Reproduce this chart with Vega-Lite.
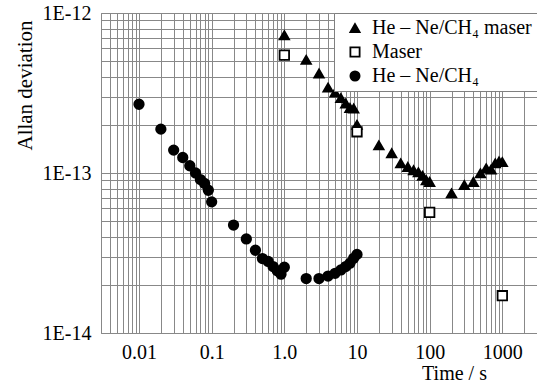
{
  "$schema": "https://vega.github.io/schema/vega-lite/v6.json",
  "width": 436,
  "height": 320,
  "autosize": "none",
  "padding": {"left": 101, "top": 13, "right": 0, "bottom": 52},
  "background": "white",
  "config": {
    "view": {"stroke": "#808080", "strokeWidth": 1},
    "font": "Liberation Serif",
    "style": {
      "guide-title": {"font": "Liberation Serif", "fontWeight": 400},
      "guide-label": {"font": "Liberation Serif"}
    },
    "axis": {
      "titleFont": "Liberation Serif",
      "titleFontWeight": 400,
      "labelFont": "Liberation Serif"
    },
    "legend": {
      "title": null,
      "orient": "top-right",
      "offset": 0,
      "padding": 5,
      "symbolOffset": 6,
      "rowPadding": 4,
      "fillColor": "white",
      "strokeColor": "#808080",
      "labelFont": "Liberation Serif",
      "labelFontSize": 20,
      "labelColor": "black",
      "labelOffset": 7,
      "symbolSize": 85,
      "symbolStrokeWidth": 1.8,
      "labelLimit": 300
    }
  },
  "data": {
    "values": [
      {"t": 1, "v": 7.26e-13, "s": "He – Ne/CH₄ maser"},
      {"t": 2, "v": 5.1e-13, "s": "He – Ne/CH₄ maser"},
      {"t": 3, "v": 4.19e-13, "s": "He – Ne/CH₄ maser"},
      {"t": 4, "v": 3.42e-13, "s": "He – Ne/CH₄ maser"},
      {"t": 5, "v": 3.18e-13, "s": "He – Ne/CH₄ maser"},
      {"t": 6, "v": 2.94e-13, "s": "He – Ne/CH₄ maser"},
      {"t": 7, "v": 2.72e-13, "s": "He – Ne/CH₄ maser"},
      {"t": 8, "v": 2.55e-13, "s": "He – Ne/CH₄ maser"},
      {"t": 9, "v": 2.53e-13, "s": "He – Ne/CH₄ maser"},
      {"t": 10, "v": 2.0e-13, "s": "He – Ne/CH₄ maser"},
      {"t": 20, "v": 1.49e-13, "s": "He – Ne/CH₄ maser"},
      {"t": 30, "v": 1.33e-13, "s": "He – Ne/CH₄ maser"},
      {"t": 40, "v": 1.15e-13, "s": "He – Ne/CH₄ maser"},
      {"t": 50, "v": 1.09e-13, "s": "He – Ne/CH₄ maser"},
      {"t": 60, "v": 1.04e-13, "s": "He – Ne/CH₄ maser"},
      {"t": 70, "v": 1.01e-13, "s": "He – Ne/CH₄ maser"},
      {"t": 80, "v": 9.6e-14, "s": "He – Ne/CH₄ maser"},
      {"t": 90, "v": 9.0e-14, "s": "He – Ne/CH₄ maser"},
      {"t": 100, "v": 8.8e-14, "s": "He – Ne/CH₄ maser"},
      {"t": 200, "v": 7.46e-14, "s": "He – Ne/CH₄ maser"},
      {"t": 300, "v": 8.4e-14, "s": "He – Ne/CH₄ maser"},
      {"t": 400, "v": 8.8e-14, "s": "He – Ne/CH₄ maser"},
      {"t": 500, "v": 9.95e-14, "s": "He – Ne/CH₄ maser"},
      {"t": 600, "v": 1.07e-13, "s": "He – Ne/CH₄ maser"},
      {"t": 700, "v": 1.05e-13, "s": "He – Ne/CH₄ maser"},
      {"t": 800, "v": 1.15e-13, "s": "He – Ne/CH₄ maser"},
      {"t": 900, "v": 1.18e-13, "s": "He – Ne/CH₄ maser"},
      {"t": 1000, "v": 1.17e-13, "s": "He – Ne/CH₄ maser"},
      {"t": 0.01, "v": 2.69e-13, "s": "He – Ne/CH₄"},
      {"t": 0.02, "v": 1.88e-13, "s": "He – Ne/CH₄"},
      {"t": 0.03, "v": 1.39e-13, "s": "He – Ne/CH₄"},
      {"t": 0.04, "v": 1.25e-13, "s": "He – Ne/CH₄"},
      {"t": 0.05, "v": 1.11e-13, "s": "He – Ne/CH₄"},
      {"t": 0.06, "v": 1.0e-13, "s": "He – Ne/CH₄"},
      {"t": 0.07, "v": 9.1e-14, "s": "He – Ne/CH₄"},
      {"t": 0.08, "v": 8.6e-14, "s": "He – Ne/CH₄"},
      {"t": 0.09, "v": 7.8e-14, "s": "He – Ne/CH₄"},
      {"t": 0.1, "v": 6.6e-14, "s": "He – Ne/CH₄"},
      {"t": 0.2, "v": 4.73e-14, "s": "He – Ne/CH₄"},
      {"t": 0.3, "v": 3.87e-14, "s": "He – Ne/CH₄"},
      {"t": 0.4, "v": 3.29e-14, "s": "He – Ne/CH₄"},
      {"t": 0.5, "v": 2.92e-14, "s": "He – Ne/CH₄"},
      {"t": 0.6, "v": 2.8e-14, "s": "He – Ne/CH₄"},
      {"t": 0.7, "v": 2.6e-14, "s": "He – Ne/CH₄"},
      {"t": 0.8, "v": 2.45e-14, "s": "He – Ne/CH₄"},
      {"t": 0.9, "v": 2.33e-14, "s": "He – Ne/CH₄"},
      {"t": 1, "v": 2.58e-14, "s": "He – Ne/CH₄"},
      {"t": 2, "v": 2.19e-14, "s": "He – Ne/CH₄"},
      {"t": 3, "v": 2.19e-14, "s": "He – Ne/CH₄"},
      {"t": 4, "v": 2.27e-14, "s": "He – Ne/CH₄"},
      {"t": 5, "v": 2.36e-14, "s": "He – Ne/CH₄"},
      {"t": 6, "v": 2.48e-14, "s": "He – Ne/CH₄"},
      {"t": 7, "v": 2.6e-14, "s": "He – Ne/CH₄"},
      {"t": 8, "v": 2.73e-14, "s": "He – Ne/CH₄"},
      {"t": 9, "v": 2.93e-14, "s": "He – Ne/CH₄"},
      {"t": 10, "v": 3.1e-14, "s": "He – Ne/CH₄"},
      {"t": 1, "v": 5.45e-13, "s": "Maser"},
      {"t": 10, "v": 1.81e-13, "s": "Maser"},
      {"t": 100, "v": 5.68e-14, "s": "Maser"},
      {"t": 1000, "v": 1.71e-14, "s": "Maser"}
    ]
  },
  "mark": {"type": "point", "filled": true, "strokeWidth": 1.8, "opacity": 1, "size": 90},
  "encoding": {
    "x": {
      "field": "t", "type": "quantitative",
      "scale": {"type": "log", "domain": [0.003, 3000], "nice": false},
      "axis": {
        "values": [0.003,0.004,0.005,0.006,0.007,0.008,0.009,0.01,0.02,0.03,0.04,0.05,0.06,0.07,0.08,0.09,0.1,0.2,0.3,0.4,0.5,0.6,0.7,0.8,0.9,1,2,3,4,5,6,7,8,9,10,20,30,40,50,60,70,80,90,100,200,300,400,500,600,700,800,900,1000,2000,3000],
        "labelExpr": "datum.value == 0.01 ? '0.01' : datum.value == 0.1 ? '0.1' : datum.value == 1 ? '1.0' : datum.value == 10 ? '10' : datum.value == 100 ? '100' : datum.value == 1000 ? '1000' : ''",
        "labelOverlap": false,
        "labelBound": false,
        "labelFlush": false,
        "labelFontSize": 20,
        "labelColor": "black",
        "labelPadding": 9,
        "ticks": false,
        "domain": false,
        "grid": true,
        "gridColor": "#888888",
        "gridWidth": 1,
        "gridOpacity": 1,
        "title": "Time / s",
        "titleFont": "Liberation Serif",
        "titleFontWeight": 400,
        "titleFontSize": 20,
        "titleColor": "black",
        "titleX": 353,
        "titleY": 46,
        "titleAlign": "center",
        "titleBaseline": "alphabetic"
      }
    },
    "y": {
      "field": "v", "type": "quantitative",
      "scale": {"type": "log", "domain": [1e-14, 1e-12], "nice": false},
      "axis": {
        "values": [1e-14,2e-14,3e-14,4e-14,5e-14,6e-14,7e-14,8e-14,9e-14,1e-13,2e-13,3e-13,4e-13,5e-13,6e-13,7e-13,8e-13,9e-13,1e-12],
        "labelExpr": "abs(log(datum.value)/LN10 + 12) < 0.01 ? '1E-12' : abs(log(datum.value)/LN10 + 13) < 0.01 ? '1E-13' : abs(log(datum.value)/LN10 + 14) < 0.01 ? '1E-14' : ''",
        "labelOverlap": false,
        "labelBound": false,
        "labelFlush": false,
        "labelFontSize": 20,
        "labelColor": "black",
        "labelPadding": 10,
        "ticks": false,
        "domain": false,
        "grid": true,
        "gridColor": "#888888",
        "gridWidth": 1,
        "gridOpacity": 1,
        "title": "Allan deviation",
        "titleFont": "Liberation Serif",
        "titleFontWeight": 400,
        "titleFontSize": 21,
        "titleColor": "black",
        "titleAngle": -90,
        "titleX": -76,
        "titleY": 72,
        "titleAlign": "center",
        "titleBaseline": "middle"
      }
    },
    "shape": {
      "field": "s", "type": "nominal",
      "scale": {"domain": ["He – Ne/CH₄ maser", "Maser", "He – Ne/CH₄"], "range": ["triangle-up", "square", "circle"]}
    },
    "fill": {
      "field": "s", "type": "nominal",
      "scale": {"domain": ["He – Ne/CH₄ maser", "Maser", "He – Ne/CH₄"], "range": ["black", "white", "black"]}
    },
    "stroke": {
      "field": "s", "type": "nominal",
      "scale": {"domain": ["He – Ne/CH₄ maser", "Maser", "He – Ne/CH₄"], "range": ["black", "black", "black"]}
    }
  }
}
